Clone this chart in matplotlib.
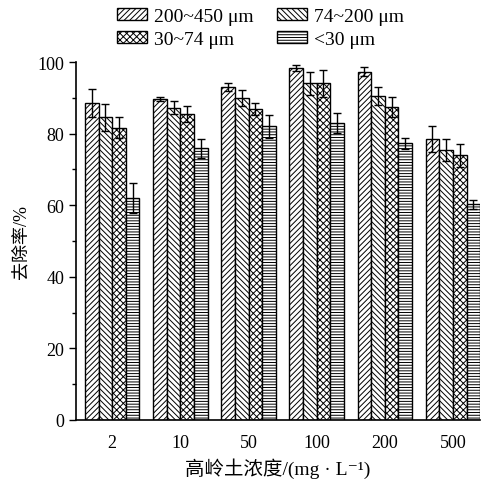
import matplotlib
matplotlib.use("Agg")
import matplotlib.pyplot as plt
import numpy as np
from matplotlib.ticker import MultipleLocator

plt.rcParams['font.family'] = ['Liberation Serif', 'Noto Sans CJK SC', 'DejaVu Sans']
plt.rcParams['hatch.linewidth'] = 0.7

categories = ['2', '10', '50', '100', '200', '500']
series_names = ['200~450 μm', '74~200 μm', '30~74 μm', '<30 μm']
v_200_450 = [88.5, 89.6, 92.9, 98.3, 97.3, 78.4]
v_74_200 = [84.5, 87.2, 90.0, 94.1, 90.4, 75.4]
v_30_74 = [81.7, 85.4, 86.9, 94.0, 87.4, 74.0]
v_lt30 = [62.1, 75.9, 82.0, 83.0, 77.3, 60.2]
e_200_450 = [4.0, 0.5, 1.1, 0.9, 1.3, 3.6]
e_74_200 = [3.7, 1.8, 2.3, 3.2, 2.5, 3.2]
e_30_74 = [2.9, 2.3, 1.6, 3.8, 2.9, 3.2]
e_lt30 = [4.2, 2.6, 3.1, 2.8, 1.6, 1.3]

values = [v_200_450, v_74_200, v_30_74, v_lt30]
errors = [e_200_450, e_74_200, e_30_74, e_lt30]
hatches = ['//////', '\\\\\\\\\\\\', 'xxxxx', '------']

fig = plt.figure(figsize=(4.91, 4.81), dpi=100)
ax = fig.add_axes([0.155, 0.125, 0.823, 0.744])

x = np.arange(len(categories))
w = 0.2
handles = []
for i in range(4):
    pos = x + (i - 1.5) * w
    b = ax.bar(pos, values[i], width=w, color='white', edgecolor='black',
               linewidth=1.0, hatch=hatches[i], label=series_names[i])
    handles.append(b)
    ax.errorbar(pos, values[i], yerr=errors[i], fmt='none', ecolor='black',
                elinewidth=1.0, capsize=3, capthick=1.0)

ax.set_xlim(-0.53, 5.4)
ax.set_ylim(0, 100)
ax.set_xticks(x)
ax.set_xticklabels(categories)
ax.yaxis.set_major_locator(MultipleLocator(20))
ax.yaxis.set_minor_locator(MultipleLocator(10))
ax.tick_params(axis='y', which='major', direction='out', length=5, width=1, labelsize=13)
ax.tick_params(axis='y', which='minor', direction='out', length=3, width=1)
ax.tick_params(axis='x', which='major', length=0, labelsize=13, pad=10)
for s in ['top', 'right']:
    ax.spines[s].set_visible(False)
for s in ['left', 'bottom']:
    ax.spines[s].set_linewidth(1.2)

ax.set_ylabel('去除率/%', fontsize=13, labelpad=6)
ax.set_xlabel('高岭土浓度/(mg · L⁻¹)', fontsize=14, labelpad=5)

order = [0, 2, 1, 3]
fig.legend([handles[k] for k in order], [series_names[k] for k in order],
           loc='upper left', bbox_to_anchor=(117 / 491, 1 - 9 / 481), ncol=2, frameon=False,
           fontsize=14, handlelength=1.55, handleheight=0.55, columnspacing=1.2,
           handletextpad=0.35, labelspacing=0.3, borderpad=0, borderaxespad=0)

fig.savefig('out.png', dpi=100)
